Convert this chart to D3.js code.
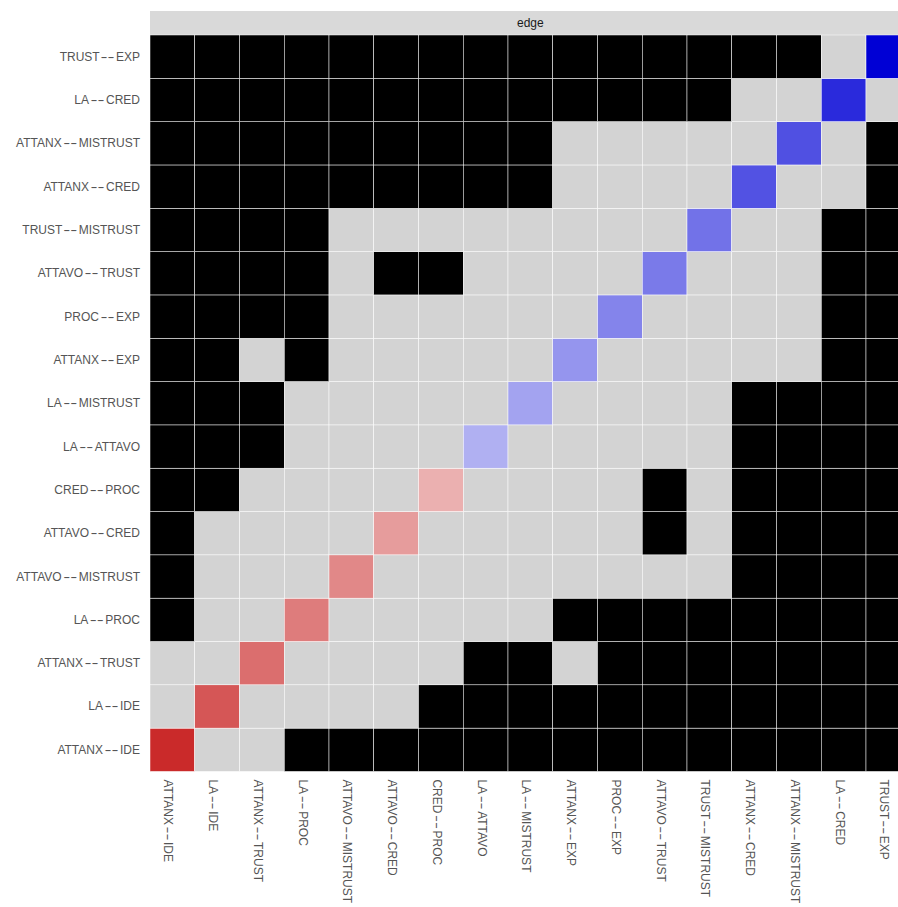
<!DOCTYPE html>
<html>
<head>
<meta charset="utf-8">
<script src="https://cdn.jsdelivr.net/npm/d3@7"></script>
<style>
  html, body { margin: 0; padding: 0; background: #fff; overflow: hidden; }
  svg { display: block; font-family: "Liberation Sans", Arial, Helvetica, sans-serif; }
</style>
</head>
<body>
<svg width="898" height="907"></svg>
<script>
// edges in sample order (bottom row / left column first)
const edges = ["ATTANX--IDE", "LA--IDE", "ATTANX--TRUST", "LA--PROC", "ATTAVO--MISTRUST",
    "ATTAVO--CRED", "CRED--PROC", "LA--ATTAVO", "LA--MISTRUST", "ATTANX--EXP", "PROC--EXP",
    "ATTAVO--TRUST", "TRUST--MISTRUST", "ATTANX--CRED", "ATTANX--MISTRUST", "LA--CRED", "TRUST--EXP"];

// sample edge weights (relative), drawn on the diagonal
const weights = [-0.835, -0.663, -0.569, -0.514, -0.467, -0.388, -0.31, 0.31, 0.36, 0.416,
    0.482, 0.52, 0.553, 0.678, 0.686, 0.835, 1.0];

// significant difference (1 = black) per row, same order as edges
const sigRows = [
    "00011111111111111", // ATTANX--IDE
    "00000011111111111", // LA--IDE
    "00000001101111111", // ATTANX--TRUST
    "10000000011111111", // LA--PROC
    "10000000000001111", // ATTAVO--MISTRUST
    "10000000000101111", // ATTAVO--CRED
    "11000000000101111", // CRED--PROC
    "11100000000001111", // LA--ATTAVO
    "11100000000001111", // LA--MISTRUST
    "11010000000000011", // ATTANX--EXP
    "11110000000000011", // PROC--EXP
    "11110110000000011", // ATTAVO--TRUST
    "11110000000000011", // TRUST--MISTRUST
    "11111111100000001", // ATTANX--CRED
    "11111111100000001", // ATTANX--MISTRUST
    "11111111111110000", // LA--CRED
    "11111111111111100"  // TRUST--EXP
];

const stripLabel = "edge";

const panelLeft = 150;
const panelTop = 35;
const cellW = 44.75;
const cellH = 43.32;
const stripHeight = 24;
const labelColor = "#555555";
const fontSize = 12;

const svg = d3.select("svg");

const x = d3.scaleBand()
    .domain(edges)
    .range([panelLeft, panelLeft + cellW * edges.length]);

const y = d3.scaleBand()
    .domain(edges)
    .range([panelTop + cellH * edges.length, panelTop]);

const maxAbs = d3.max(weights, d => Math.abs(d));
const fillPos = d3.scaleLinear().domain([0, maxAbs]).range(["#ffffff", "#0000D5"]);
const fillNeg = d3.scaleLinear().domain([0, maxAbs]).range(["#ffffff", "#BF0000"]);

const cells = [];
edges.forEach((rowEdge, i) => {
    edges.forEach((colEdge, j) => {
        cells.push({
            row: rowEdge,
            col: colEdge,
            diag: i === j,
            weight: weights[i],
            sig: sigRows[i][j] === "1"
        });
    });
});

// edge label, the "--" drawn stretched into a long dash like the original
function edgeLabel(sel) {
    sel.each(function(d) {
        const parts = d.split("--");
        const t = d3.select(this);
        t.append("tspan").text(parts[0]);
        t.append("tspan")
            .attr("dx", 1.5)
            .attr("textLength", 14)
            .attr("lengthAdjust", "spacingAndGlyphs")
            .text("--");
        t.append("tspan").attr("dx", 1.5).text(parts[1]);
    });
}

// strip
svg.append("rect")
    .attr("x", x.range()[0])
    .attr("y", panelTop - stripHeight)
    .attr("width", x.range()[1] - x.range()[0])
    .attr("height", stripHeight)
    .attr("fill", "#d9d9d9");

svg.append("text")
    .attr("x", (x.range()[0] + x.range()[1]) / 2)
    .attr("y", panelTop - stripHeight / 2)
    .attr("text-anchor", "middle")
    .attr("dominant-baseline", "central")
    .attr("font-size", fontSize)
    .attr("fill", "#1a1a1a")
    .text(stripLabel);

// tiles
svg.append("g")
    .selectAll("rect")
    .data(cells)
    .enter()
    .append("rect")
    .attr("x", d => x(d.col))
    .attr("y", d => y(d.row))
    .attr("width", x.bandwidth())
    .attr("height", y.bandwidth())
    .attr("fill", d => d.diag ? (d.weight < 0 ? fillNeg(-d.weight) : fillPos(d.weight)) : d.sig ? "#000000" : "#d3d3d3")
    .attr("stroke", "#ffffff")
    .attr("stroke-width", 0.5);

// row labels
svg.append("g")
    .selectAll("text")
    .data(edges)
    .enter()
    .append("text")
    .attr("x", panelLeft - 10)
    .attr("y", d => y(d) + y.bandwidth() / 2)
    .attr("text-anchor", "end")
    .attr("dominant-baseline", "central")
    .attr("font-size", fontSize)
    .attr("fill", labelColor)
    .call(edgeLabel);

// column labels, rotated
const colTop = panelTop + cellH * edges.length + 8;
svg.append("g")
    .selectAll("text")
    .data(edges)
    .enter()
    .append("text")
    .attr("transform", d => `translate(${x(d) + x.bandwidth() / 2 - 4}, ${colTop}) rotate(90)`)
    .attr("text-anchor", "start")
    .attr("dominant-baseline", "central")
    .attr("font-size", fontSize)
    .attr("fill", labelColor)
    .call(edgeLabel);
</script>
</body>
</html>
